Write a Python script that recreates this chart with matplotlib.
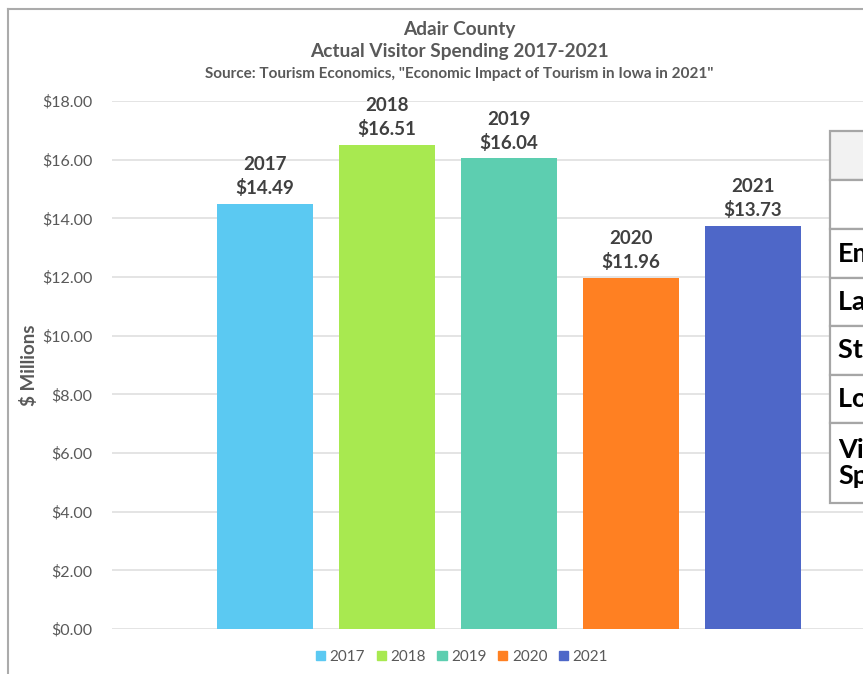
import matplotlib
matplotlib.use("Agg")
import matplotlib.pyplot as plt
from matplotlib.patches import Rectangle
from matplotlib.lines import Line2D

# --- data -------------------------------------------------------------
years = ["2017", "2018", "2019", "2020", "2021"]
spending = [14.49, 16.51, 16.04, 11.96, 13.73]
bar_colors = ["#5BC9F2", "#A8E950", "#5DCEB0", "#FF8022", "#4E67C8"]
yticks = [0, 2, 4, 6, 8, 10, 12, 14, 16, 18]
table_rows = ["", "", "Employment", "Labor Income", "State Tax Receipts",
              "Local Tax Receipts", "Visitor\nSpending"]

FONT = ["Lato", "DejaVu Sans"]
plt.rcParams["font.family"] = FONT

W, H = 863, 674
fig = plt.figure(figsize=(W / 100, H / 100), dpi=100)


def fx(px):
    return px / W


def fy(py):
    return 1 - py / H


# outer chart frame
fig.add_artist(Line2D([fx(7.5), fx(7.5)], [fy(8.5), fy(H)], color="#ababab", lw=1.5))
fig.add_artist(Line2D([fx(7.5), 1], [fy(8.5), fy(8.5)], color="#ababab", lw=1.5))

# plot area
ax = fig.add_axes([fx(112), fy(629), 1 - fx(112), fy(101) - fy(629)])
x = list(range(len(years)))
ax.bar(x, spending, width=0.787, color=bar_colors, zorder=3)
ax.set_xlim(-1.254, 4.902)
ax.set_ylim(0, 18)
ax.set_yticks(yticks)
ax.set_yticklabels([f"${v:.2f}" for v in yticks], fontsize=11.5, color="#595959")
ax.tick_params(axis="y", length=0, pad=14)
ax.set_xticks([])
for s in ax.spines.values():
    s.set_visible(False)
ax.grid(axis="y", color="#dcdcdc", lw=1.1, zorder=0)
ax.set_ylabel("$ Millions", fontsize=13.5, fontweight="bold", color="#595959")
ax.yaxis.set_label_coords(-0.098, 0.5)

for xi, yr, v in zip(x, years, spending):
    ax.annotate(f"{yr}\n${v:.2f}", (xi, v), xytext=(0, 5), textcoords="offset points",
                ha="center", va="bottom", fontsize=13.5, fontweight="bold",
                color="#404040", linespacing=1.4)

# titles
fig.text(fx(459), fy(30), "Adair County", ha="center", va="center",
         fontsize=13.7, fontweight="bold", color="#595959")
fig.text(fx(459), fy(52), "Actual Visitor Spending 2017-2021", ha="center", va="center",
         fontsize=13.7, fontweight="bold", color="#595959")
fig.text(fx(459), fy(74), 'Source: Tourism Economics, "Economic Impact of Tourism in Iowa in 2021"',
         ha="center", va="center", fontsize=11, fontweight="bold", color="#595959")

# legend
handles = [Rectangle((0, 0), 1, 1, color=c) for c in bar_colors]
fig.legend(handles, years, loc="center", bbox_to_anchor=(fx(462), fy(657)), ncol=5,
           frameon=False, fontsize=11, handlelength=0.6, handleheight=0.6,
           handletextpad=0.3, columnspacing=0.75, labelcolor="#595959")

# side table (partly outside the figure)
row_edges = [131, 180, 229, 278, 326, 375, 423, 503]
for i, label in enumerate(table_rows):
    top, bot = row_edges[i], row_edges[i + 1]
    face = "#f2f2f2" if i == 0 else "white"
    fig.add_artist(Rectangle((fx(830), fy(bot)), fx(200), fy(top) - fy(bot),
                             transform=fig.transFigure, facecolor=face,
                             edgecolor="#a6a6a6", lw=1.6, zorder=5))
    if label:
        fig.text(fx(838), fy((top + bot) / 2), label, ha="left", va="center",
                 fontsize=19.5, fontweight="bold", color="#000000", zorder=6,
                 linespacing=1.1)

fig.savefig("out.png", dpi=100, facecolor="white")
